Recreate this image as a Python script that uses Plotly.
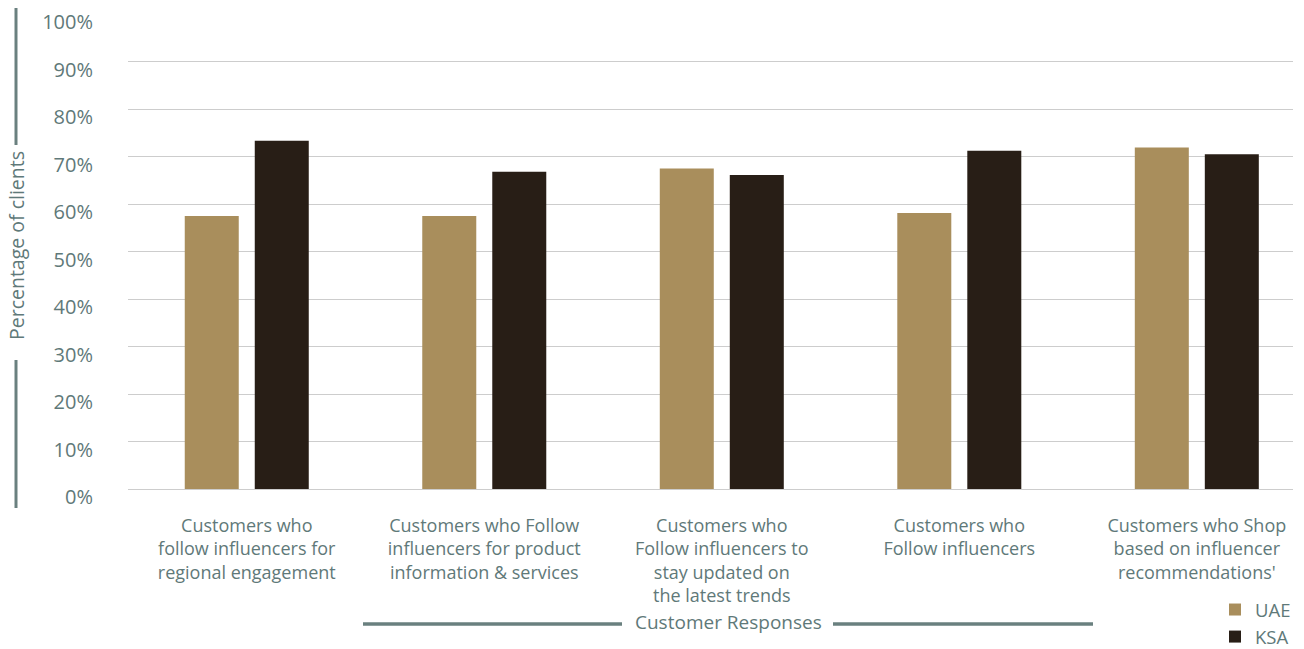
import plotly.graph_objects as go

# Survey responses (percentage of clients)
categories = [
    "Customers who<br>follow influencers for<br>regional engagement",
    "Customers who Follow<br>influencers for product<br>information & services",
    "Customers who<br>Follow influencers to<br>stay updated on<br>the latest trends",
    "Customers who<br>Follow influencers",
    "Customers who Shop<br>based on influencer<br>recommendations'",
]
uae_values = [57.5, 57.5, 67.5, 58.1, 71.9]
ksa_values = [73.3, 66.8, 66.1, 71.2, 70.5]
y_ticks = [0, 10, 20, 30, 40, 50, 60, 70, 80, 90, 100]

UAE_COLOR = "#a98e5c"
KSA_COLOR = "#281e16"
TEXT_COLOR = "#5f7979"
RULE_COLOR = "#6a807f"
FONT = "Open Sans"

W, H = 1304, 649
PL, PR, PT, PB = 128, 1293, 14, 489  # plot-area edges in pixels


def fx(px):
    return (px - PL) / (PR - PL)


def fy(py):
    return (PB - py) / (PB - PT)


fig = go.Figure()
fig.add_trace(go.Bar(name="UAE", x=categories, y=uae_values,
                     marker=dict(color=UAE_COLOR, line=dict(width=0)),
                     legendgroup="uae"))
fig.add_trace(go.Bar(name="KSA", x=categories, y=ksa_values,
                     marker=dict(color=KSA_COLOR, line=dict(width=0)),
                     legendgroup="ksa"))

annotations = [
    # y-axis title
    dict(x=fx(16), xref="paper", y=fy(246), yref="paper",
         text="Percentage of clients", textangle=-90, showarrow=False,
         xanchor="center", yanchor="middle",
         font=dict(family=FONT, size=19.5, color=TEXT_COLOR)),
    # x-axis title
    dict(x=fx(728), xref="paper", y=fy(622), yref="paper",
         text="Customer Responses", showarrow=False,
         xanchor="center", yanchor="middle",
         font=dict(family=FONT, size=19, color=TEXT_COLOR)),
]

shapes = [
    # rules flanking the y-axis title
    dict(type="line", xref="paper", yref="paper",
         x0=fx(16), x1=fx(16), y0=fy(8), y1=fy(145),
         line=dict(color=RULE_COLOR, width=3)),
    dict(type="line", xref="paper", yref="paper",
         x0=fx(16), x1=fx(16), y0=fy(360), y1=fy(508),
         line=dict(color=RULE_COLOR, width=3)),
    # rules flanking the x-axis title
    dict(type="line", xref="paper", yref="paper",
         x0=fx(363), x1=fx(622), y0=fy(624), y1=fy(624),
         line=dict(color=RULE_COLOR, width=3.5)),
    dict(type="line", xref="paper", yref="paper",
         x0=fx(833), x1=fx(1093), y0=fy(624), y1=fy(624),
         line=dict(color=RULE_COLOR, width=3.5)),
]

fig.update_layout(
    width=W, height=H,
    margin=dict(l=PL, r=W - PR, t=PT, b=H - PB, pad=0, autoexpand=False),
    paper_bgcolor="white", plot_bgcolor="white",
    barmode="group", bargap=0.4105, bargroupgap=0.2286,
    font=dict(family=FONT, color=TEXT_COLOR),
    showlegend=True,
    legend=dict(
        x=fx(1215), xanchor="left", y=fy(591), yanchor="top",
        font=dict(family=FONT, size=18.5, color=TEXT_COLOR),
        tracegroupgap=7, itemwidth=30, bgcolor="rgba(0,0,0,0)",
        traceorder="normal",
    ),
    xaxis=dict(
        type="category", range=[-0.5, 4.405],
        showgrid=False, zeroline=False, showline=False, ticks="",
        tickfont=dict(family=FONT, size=18, color=TEXT_COLOR),
        ticklabelstandoff=24, automargin=False,
    ),
    yaxis=dict(
        range=[0, 100], tickvals=y_ticks,
        ticktext=[f"{v}%" for v in y_ticks],
        showgrid=True, gridcolor="#cdcdcd", gridwidth=1,
        zeroline=True, zerolinecolor="#cdcdcd", zerolinewidth=1,
        showline=False, ticks="", ticklabelstandoff=34,
        ticklabelshift=8, automargin=False,
        tickfont=dict(family=FONT, size=20, color=TEXT_COLOR),
    ),
    annotations=annotations,
    shapes=shapes,
)

fig.write_html("out.html")
